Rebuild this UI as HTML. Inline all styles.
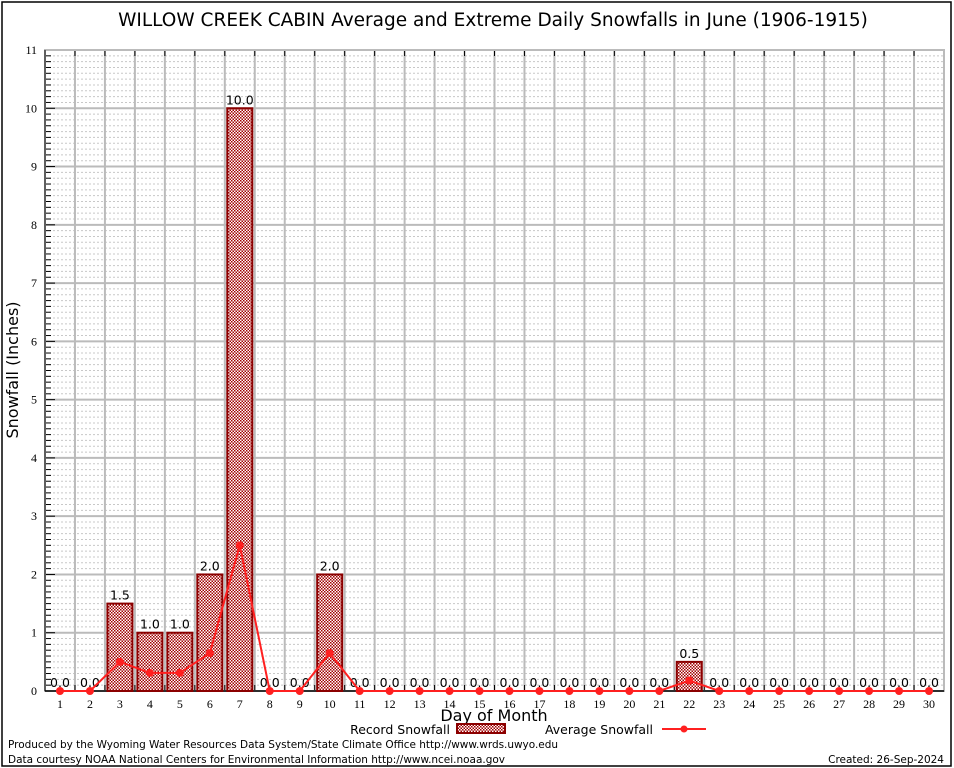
<!DOCTYPE html>
<html><head><meta charset="utf-8"><style>
body{margin:0;background:#fff;width:954px;height:768px;overflow:hidden}
svg{display:block;font-family:"DejaVu Sans","Liberation Sans",sans-serif}
</style></head><body>
<svg id="c" width="954" height="768" xmlns="http://www.w3.org/2000/svg">
<defs>
<pattern id="hatch" width="3" height="3" patternUnits="userSpaceOnUse">
<rect width="3" height="3" fill="#fff"/>
<rect x="0" y="0" width="1.5" height="1.5" fill="#a00000"/>
<rect x="1.5" y="1.5" width="1.5" height="1.5" fill="#a00000"/>
</pattern>
</defs>
</svg>
<script>
const days=[1,2,3,4,5,6,7,8,9,10,11,12,13,14,15,16,17,18,19,20,21,22,23,24,25,26,27,28,29,30];
const record=[0,0,1.5,1,1,2,10,0,0,2,0,0,0,0,0,0,0,0,0,0,0,0.5,0,0,0,0,0,0,0,0];
const average=[0,0,0.5,0.31,0.31,0.65,2.5,0,0,0.65,0,0,0,0,0,0,0,0,0,0,0,0.18,0,0,0,0,0,0,0,0];
const yTicks=[0,1,2,3,4,5,6,7,8,9,10,11];
const NS='http://www.w3.org/2000/svg';
const svg=document.getElementById('c');
const L=45,R=944,T=50,B=691,yMax=11;
const step=(R-L)/days.length;
const x=d=>L+step*(d-0.5);
const y=v=>B-(B-T)*v/yMax;
function el(t,a,p){const e=document.createElementNS(NS,t);for(const k in a)e.setAttribute(k,a[k]);(p||svg).appendChild(e);return e;}
function txt(s,a){const e=el('text',a);e.textContent=s;return e;}
let fr=el('rect',{x:2,y:2,width:949,height:764,fill:'none',stroke:'#000','stroke-width':1.5});


let tt=txt('WILLOW CREEK CABIN Average and Extreme Daily Snowfalls in June (1906-1915)',{x:493,y:26,'text-anchor':'middle','font-size':18.5});


const g=el('g',{});


for(let v=0;v<yMax;v+=0.1){const yy=y(v);if(Math.abs(v-Math.round(v))<1e-6)continue;el('line',{x1:L,x2:R,y1:yy,y2:yy,stroke:'#c8c8c8','stroke-dasharray':'2,2','stroke-width':1},g);el('line',{x1:L,x2:L+6,y1:yy,y2:yy,stroke:'#000'},g);}
for(let i=1;i<days.length;i++){const xx=L+step*i;el('line',{x1:xx,x2:xx,y1:T,y2:B,stroke:'#bbb','stroke-width':2},g);el('line',{x1:xx,x2:xx,y1:T,y2:T+6,stroke:'#000'},g);el('line',{x1:xx,x2:xx,y1:B,y2:B-6,stroke:'#000'},g);}
yTicks.forEach(v=>{const yy=y(v);if(v>0&&v<yMax)el('line',{x1:L,x2:R,y1:yy,y2:yy,stroke:'#bbb','stroke-width':2},g);el('line',{x1:L,x2:L+10,y1:yy,y2:yy,stroke:'#000'},g);
 const t=txt(String(v),{x:L-8,y:yy+4,'text-anchor':'end','font-size':12,'font-family':'Liberation Serif,serif'});});
el('rect',{x:L,y:T,width:R-L,height:B-T,fill:'none',stroke:'#bbb','stroke-width':2},g);
el('line',{x1:L,x2:R,y1:B,y2:B,stroke:'#000','stroke-width':1.5},g);
el('line',{x1:L,x2:L,y1:T,y2:B,stroke:'#000','stroke-width':1},g);
days.forEach((d,i)=>{const v=record[i];const bw=25;
 if(v>0){const b=el('rect',{x:x(d)-bw/2,y:y(v),width:bw,height:B-y(v),fill:'url(#hatch)',stroke:'#8b0000','stroke-width':2});
 }
 const l=txt(v.toFixed(1),{x:x(d),y:y(v)-4,'text-anchor':'middle','font-size':12.5});
 
 const xl=txt(String(d),{x:x(d),y:B+17,'text-anchor':'middle','font-size':12,'font-family':'Liberation Serif,serif'});
 
});
const pl=el('polyline',{points:days.map((d,i)=>x(d)+','+y(average[i])).join(' '),fill:'none',stroke:'#ff2020','stroke-width':2});

days.forEach((d,i)=>{const c=el('circle',{cx:x(d),cy:y(average[i]),r:4,fill:'#ff2020'});});
let yt=txt('Snowfall (Inches)',{x:18,y:370,'text-anchor':'middle','font-size':16,transform:'rotate(-90 18 370)'});

let xt=txt('Day of Month',{x:494,y:721,'text-anchor':'middle','font-size':16});

const lg=el('g',{});
let l1=el('text',{x:450,y:734,'text-anchor':'end','font-size':12.5},lg);l1.textContent='Record Snowfall';
let lr=el('rect',{x:457,y:724,width:48,height:9,fill:'url(#hatch)',stroke:'#8b0000','stroke-width':2},lg);

let l2=el('text',{x:653,y:734,'text-anchor':'end','font-size':12.5},lg);l2.textContent='Average Snowfall';
el('line',{x1:662,x2:706,y1:729,y2:729,stroke:'#ff2020','stroke-width':2},lg);
el('circle',{cx:684,cy:729,r:3.5,fill:'#ff2020'},lg);
let f1=txt('Produced by the Wyoming Water Resources Data System/State Climate Office http://www.wrds.uwyo.edu',{x:8,y:748,'font-size':10.5,textLength:550});

let f2=txt('Data courtesy NOAA National Centers for Environmental Information http://www.ncei.noaa.gov',{x:8,y:763,'font-size':10.5,textLength:497});

let f3=txt('Created: 26-Sep-2024',{x:944,y:763,'text-anchor':'end','font-size':10.5});

</script>
</body></html>
